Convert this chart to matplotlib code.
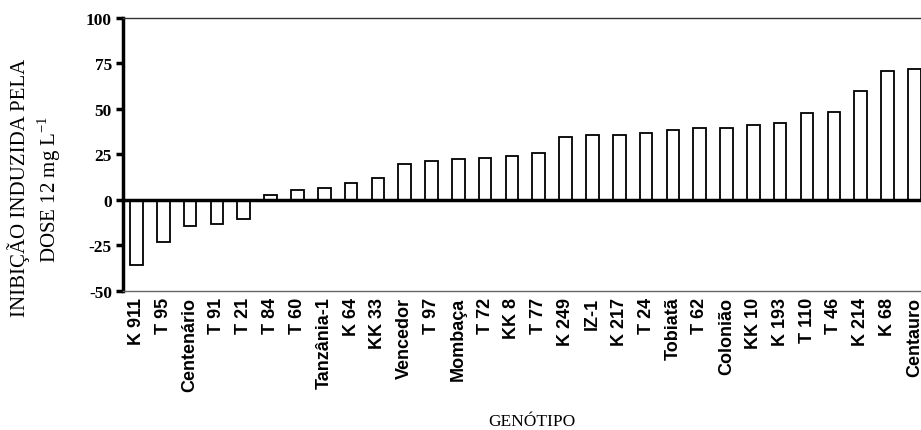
import matplotlib.pyplot as plt
import numpy as np

plt.rcParams["mathtext.fontset"] = "custom"
plt.rcParams["mathtext.rm"] = "Liberation Serif"

# genotypes, sorted by inhibition
genotypes = ["K 911", "T 95", "Centenário", "T 91", "T 21", "T 84", "T 60",
             "Tanzânia-1", "K 64", "KK 33", "Vencedor", "T 97", "Mombaça",
             "T 72", "KK 8", "T 77", "K 249", "IZ-1", "K 217", "T 24",
             "Tobiatã", "T 62", "Colonião", "KK 10", "K 193", "T 110",
             "T 46", "K 214", "K 68", "Centauro"]
inhibition = [-35.5, -23.0, -14.3, -13.2, -10.6, 2.9, 5.5, 6.4, 9.3, 11.9,
              19.9, 21.6, 22.5, 23.3, 24.4, 26.0, 34.4, 35.9, 35.9, 36.8,
              38.6, 39.6, 39.6, 41.2, 42.1, 47.6, 48.4, 59.9, 71.0, 71.8]
yticks = [-50, -25, 0, 25, 50, 75, 100]

fig = plt.figure(figsize=(9.21, 4.31), dpi=100)
ax = fig.add_axes([0.1336, 0.3225, 0.8664, 0.6335])

x = np.arange(len(genotypes))
ax.bar(x, inhibition, width=0.47, color="white", edgecolor="black",
       linewidth=1.3, zorder=2)
ax.axhline(0, color="black", linewidth=2.5, zorder=3)

ax.set_xlim(-0.5, 29.25)
ax.set_ylim(-50, 100)
ax.set_yticks(yticks)
ax.set_yticklabels([str(v) for v in yticks], fontfamily="Liberation Serif",
                   fontweight="bold", fontsize=12.5)
ax.tick_params(axis="y", direction="out", length=5, width=2.5, pad=3)

ax.set_xticks(x)
ax.set_xticklabels(genotypes, rotation=90, fontfamily="Liberation Sans",
                   fontweight="bold", fontsize=13, va="top")
ax.tick_params(axis="x", length=0, pad=4)

ax.spines["left"].set_linewidth(2.5)
ax.spines["top"].set_linewidth(1.0)
ax.spines["top"].set_color("#333333")
ax.spines["bottom"].set_linewidth(1.0)
ax.spines["bottom"].set_color("#666666")
ax.spines["right"].set_visible(False)

fig.text(0.02, 0.564, "INIBIÇÃO INDUZIDA PELA", rotation=90,
         fontfamily="Liberation Serif", fontsize=15, ha="center", va="center")
fig.text(0.053, 0.56, "DOSE 12 mg L$^{\\mathregular{-1}}$", rotation=90,
         fontfamily="Liberation Serif", fontsize=15, ha="center", va="center")
fig.text(0.578, 0.003, "GENÓTIPO", fontfamily="Liberation Serif",
         fontsize=12.5, ha="center", va="bottom")

fig.savefig("out.png", dpi=100)
plt.close(fig)
